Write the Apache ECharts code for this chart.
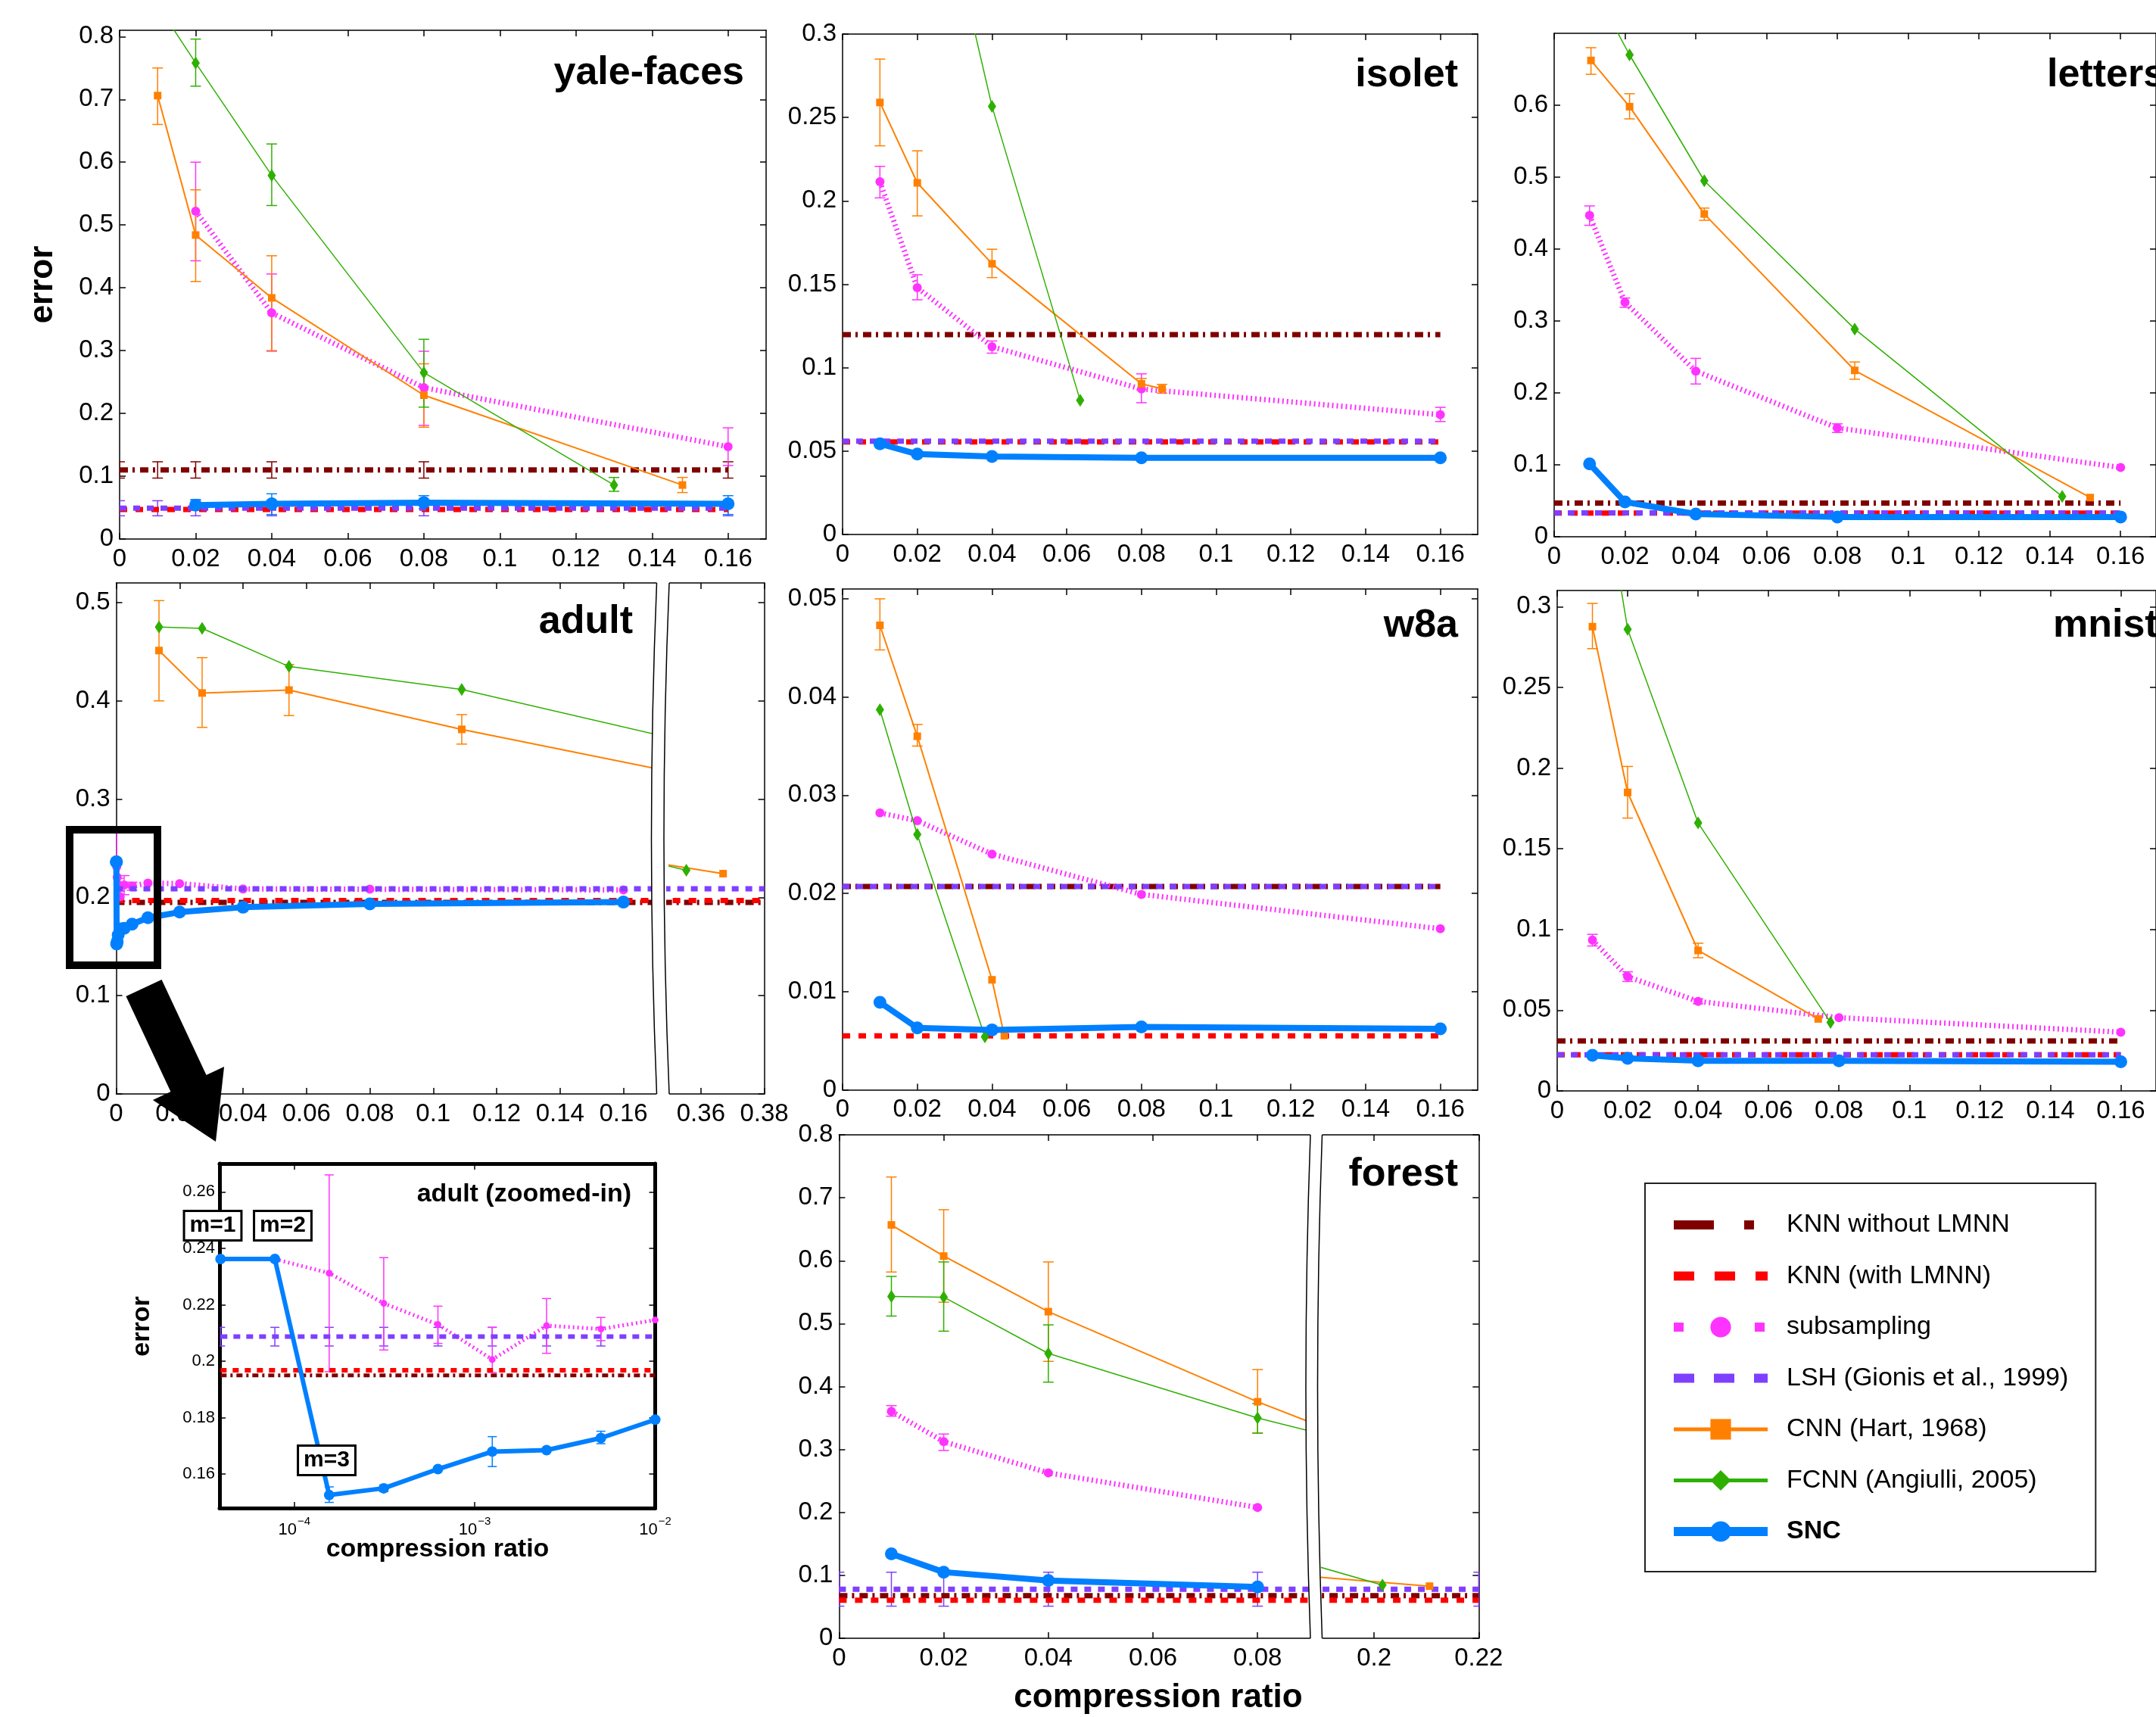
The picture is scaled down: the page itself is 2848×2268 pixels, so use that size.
<!DOCTYPE html>
<html>
<head>
<meta charset="utf-8">
<title>error vs compression ratio</title>
<script src="https://cdn.jsdelivr.net/npm/echarts@6/dist/echarts.min.js"></script>
<style>
  html, body { margin: 0; padding: 0; background: #fff; }
  #chart { width: 2848px; height: 2268px; }
</style>
</head>
<body>
<div id="chart"></div>
<script>
// ---------- values ----------
const mainXTicks = [0, 0.02, 0.04, 0.06, 0.08, 0.1, 0.12, 0.14, 0.16];

// yale-faces
const yaleBaseX = [0, 0.01, 0.02, 0.04, 0.08, 0.16];
const yaleKnn = 0.110, yaleKnnLmnn = 0.047, yaleLsh = 0.049;
const yaleKnnSpread = 0.013, yaleLshSpread = 0.012;
const yaleSub = [[0.02, 0.522], [0.04, 0.360], [0.08, 0.241], [0.16, 0.147]];
const yaleSubErr = [[0.02, 0.443, 0.600], [0.04, 0.299, 0.422], [0.08, 0.181, 0.299], [0.16, 0.117, 0.177]];
const yaleCnn = [[0.01, 0.706], [0.02, 0.484], [0.04, 0.384], [0.08, 0.229], [0.148, 0.086]];
const yaleCnnErr = [[0.01, 0.660, 0.750], [0.02, 0.410, 0.556], [0.04, 0.300, 0.451], [0.08, 0.178, 0.279], [0.148, 0.074, 0.098]];
const yaleFcnn = [[0.01, 0.850], [0.02, 0.758], [0.04, 0.579], [0.08, 0.265], [0.130, 0.086]];
const yaleFcnnErr = [[0.02, 0.721, 0.796], [0.04, 0.531, 0.629], [0.08, 0.210, 0.318], [0.130, 0.076, 0.098]];
const yaleSnc = [[0.02, 0.054], [0.04, 0.056], [0.08, 0.058], [0.16, 0.056]];
const yaleSncErr = [[0.02, 0.046, 0.063], [0.04, 0.039, 0.072], [0.08, 0.048, 0.069], [0.16, 0.039, 0.069]];
const yaleYTicks = [0, 0.1, 0.2, 0.3, 0.4, 0.5, 0.6, 0.7, 0.8];

// isolet
const isoBaseX = [0, 0.01, 0.02, 0.04, 0.08, 0.16];
const isoKnn = 0.1198, isoKnnLmnn = 0.0555, isoLsh = 0.0559;
const isoSub = [[0.01, 0.2115], [0.02, 0.148], [0.04, 0.1126], [0.08, 0.0872], [0.16, 0.0718]];
const isoSubErr = [[0.01, 0.2018, 0.2207], [0.02, 0.1407, 0.1557], [0.04, 0.1087, 0.116], [0.08, 0.079, 0.0963], [0.16, 0.0677, 0.0762]];
const isoCnn = [[0.01, 0.259], [0.02, 0.2108], [0.04, 0.1623], [0.08, 0.0903], [0.0855, 0.0874]];
const isoCnnErr = [[0.01, 0.233, 0.285], [0.02, 0.191, 0.230], [0.04, 0.154, 0.171], [0.08, 0.0868, 0.0935], [0.0855, 0.0847, 0.0900]];
const isoFcnn = [[0.02, 0.45], [0.04, 0.2566], [0.0636, 0.0804]];
const isoSnc = [[0.01, 0.0544], [0.02, 0.0482], [0.04, 0.0467], [0.08, 0.046], [0.16, 0.046]];
const isoYTicks = [0, 0.05, 0.1, 0.15, 0.2, 0.25, 0.3];

// letters
const letBaseX = [0, 0.01, 0.02, 0.04, 0.08, 0.16];
const letKnn = 0.0469, letKnnLmnn = 0.033, letLsh = 0.0331;
const letSub = [[0.01, 0.4468], [0.02, 0.326], [0.04, 0.2303], [0.08, 0.1513], [0.16, 0.0963]];
const letSubErr = [[0.01, 0.433, 0.46], [0.02, 0.319, 0.332], [0.04, 0.2124, 0.248], [0.08, 0.145, 0.157]];
const letCnn = [[0.0104, 0.6623], [0.0213, 0.598], [0.0424, 0.4488], [0.0849, 0.2313], [0.1514, 0.0545]];
const letCnnErr = [[0.0104, 0.643, 0.68], [0.0213, 0.581, 0.616], [0.0424, 0.44, 0.457], [0.0849, 0.219, 0.243]];
const letFcnn = [[0.0104, 0.77], [0.0213, 0.67], [0.0424, 0.495], [0.0849, 0.2888], [0.1435, 0.056]];
const letSnc = [[0.01, 0.1014], [0.02, 0.0484], [0.04, 0.0316], [0.08, 0.0275], [0.16, 0.0275]];
const letYTicks = [0, 0.1, 0.2, 0.3, 0.4, 0.5, 0.6];

// adult (zoomed-in region, log x)
const adultZoomX = [3.9e-5, 7.8e-5, 1.56e-4, 3.13e-4, 6.25e-4, 1.25e-3, 2.5e-3, 5e-3, 1e-2];
const adultZoomSnc = [[3.9e-5, 0.2362], [7.8e-5, 0.2362], [1.56e-4, 0.1526], [3.13e-4, 0.155], [6.25e-4, 0.1618], [1.25e-3, 0.168], [2.5e-3, 0.1685], [5e-3, 0.1728], [1e-2, 0.1793]];
const adultZoomSncErr = [[1.56e-4, 0.150, 0.1555], [3.13e-4, 0.1538, 0.1562], [1.25e-3, 0.1627, 0.1733], [5e-3, 0.1708, 0.1752]];
const adultZoomSub = [[7.8e-5, 0.2362], [1.56e-4, 0.2312], [3.13e-4, 0.2205], [6.25e-4, 0.213], [1.25e-3, 0.2006], [2.5e-3, 0.2126], [5e-3, 0.2114], [1e-2, 0.2146]];
const adultZoomSubErr = [[1.56e-4, 0.1963, 0.266], [3.13e-4, 0.204, 0.2367], [6.25e-4, 0.2063, 0.2195], [1.25e-3, 0.196, 0.212], [2.5e-3, 0.2028, 0.2222], [5e-3, 0.2073, 0.2155]];
const adultZoomXTicks = [1e-4, 1e-3, 1e-2];
const adultZoomYTicks = [0.16, 0.18, 0.2, 0.22, 0.24, 0.26];
// adult (full)
const adultBaseX = [0, 0.01, 0.02, 0.04, 0.08, 0.16, 0.38];
const adultKnn = 0.195, adultKnnLmnn = 0.1968, adultLsh = 0.2087, adultLshSpread = 0.0033;
const adultSub = [[0.02, 0.214], [0.04, 0.2086], [0.08, 0.2083], [0.16, 0.2076]];
const adultSnc = [[0.02, 0.185], [0.04, 0.19], [0.08, 0.1934], [0.16, 0.1952]];
const adultCnn = [[0.0135, 0.4512], [0.0271, 0.408], [0.0545, 0.411], [0.109, 0.371], [0.218, 0.30], [0.367, 0.2242]];
const adultCnnErr = [[0.0135, 0.40, 0.502], [0.0271, 0.373, 0.444], [0.0545, 0.385, 0.437], [0.109, 0.356, 0.386]];
const adultFcnn = [[0.0135, 0.4752], [0.0271, 0.4738], [0.0545, 0.435], [0.109, 0.4116], [0.218, 0.33], [0.3554, 0.2277]];
const adultYTicks = [0, 0.1, 0.2, 0.3, 0.4, 0.5];
const adultXTicksRight = [0.36, 0.38];

// w8a
const w8aBaseX = [0, 0.01, 0.02, 0.04, 0.08, 0.16];
const w8aKnn = 0.0207, w8aKnnLmnn = 0.0055, w8aLsh = 0.0207;
const w8aSub = [[0.01, 0.0282], [0.02, 0.0274], [0.04, 0.024], [0.08, 0.0199], [0.16, 0.0164]];
const w8aCnn = [[0.01, 0.0473], [0.02, 0.036], [0.04, 0.0112], [0.0433, 0.0055]];
const w8aCnnErr = [[0.01, 0.0448, 0.05], [0.02, 0.035, 0.0372]];
const w8aFcnn = [[0.01, 0.0387], [0.02, 0.026], [0.0381, 0.0054]];
const w8aSnc = [[0.01, 0.0089], [0.02, 0.0063], [0.04, 0.0061], [0.08, 0.0064], [0.16, 0.0062]];
const w8aYTicks = [0, 0.01, 0.02, 0.03, 0.04, 0.05];

// mnist
const mnBaseX = [0, 0.01, 0.02, 0.04, 0.08, 0.16];
const mnKnn = 0.031, mnKnnLmnn = 0.0224, mnLsh = 0.0224;
const mnSub = [[0.01, 0.0934], [0.02, 0.0708], [0.04, 0.0555], [0.08, 0.0454], [0.16, 0.0364]];
const mnSubErr = [[0.01, 0.0898, 0.097], [0.02, 0.0678, 0.0738], [0.04, 0.054, 0.057]];
const mnCnn = [[0.01, 0.2876], [0.02, 0.1849], [0.04, 0.087], [0.0741, 0.0446]];
const mnCnnErr = [[0.01, 0.274, 0.302], [0.02, 0.169, 0.201], [0.04, 0.0825, 0.0915]];
const mnFcnn = [[0.01, 0.42], [0.02, 0.286], [0.04, 0.166], [0.0776, 0.0424]];
const mnSnc = [[0.01, 0.022], [0.02, 0.0202], [0.04, 0.0187], [0.08, 0.0187], [0.16, 0.0181]];
const mnYTicks = [0, 0.05, 0.1, 0.15, 0.2, 0.25, 0.3];

// forest
const foBaseX = [0, 0.01, 0.02, 0.04, 0.08, 0.16, 0.22];
const foKnn = 0.0677, foKnnLmnn = 0.0604, foLsh = 0.078, foLshSpread = 0.027;
const foSub = [[0.01, 0.3607], [0.02, 0.3124], [0.04, 0.2628], [0.08, 0.2079]];
const foSubErr = [[0.01, 0.3529, 0.3697], [0.02, 0.2985, 0.3245]];
const foCnn = [[0.01, 0.6568], [0.02, 0.6073], [0.04, 0.519], [0.08, 0.3758], [0.16, 0.117], [0.2106, 0.0828]];
const foCnnErr = [[0.01, 0.582, 0.733], [0.02, 0.534, 0.681], [0.04, 0.44, 0.598], [0.08, 0.326, 0.427]];
const foFcnn = [[0.01, 0.5432], [0.02, 0.542], [0.04, 0.4526], [0.08, 0.35], [0.16, 0.184], [0.2016, 0.0846]];
const foFcnnErr = [[0.01, 0.512, 0.575], [0.02, 0.488, 0.598], [0.04, 0.407, 0.498], [0.08, 0.326, 0.373]];
const foSnc = [[0.01, 0.1341], [0.02, 0.1051], [0.04, 0.0918], [0.08, 0.0816]];
const foYTicks = [0, 0.1, 0.2, 0.3, 0.4, 0.5, 0.6, 0.7, 0.8];
const foXTicksLeft = [0, 0.02, 0.04, 0.06, 0.08];
const foXTicksRight = [0.2, 0.22];

// ---------- styles ----------
const FONT = "'Liberation Sans', Arial, Helvetica, sans-serif";
const NAMES = {
  knn: 'KNN without LMNN', lmnn: 'KNN (with LMNN)', sub: 'subsampling',
  lsh: 'LSH (Gionis et al., 1999)', cnn: 'CNN (Hart, 1968)',
  fcnn: 'FCNN (Angiulli, 2005)', snc: 'SNC'
};
const MAIN = {
  knn:  { color: '#800000', width: 7, type: [11, 6, 3, 7] },
  lmnn: { color: '#ff0000', width: 7, type: [10, 11] },
  sub:  { color: '#ff33ff', width: 7, type: [2, 4], symbol: 'circle', size: 12 },
  lsh:  { color: '#7f3fff', width: 7, type: [9, 9] },
  cnn:  { color: '#ff8000', width: 2, type: 'solid', symbol: 'rect', size: 10 },
  fcnn: { color: '#2eb000', width: 1.5, type: 'solid', symbol: 'diamond', size: [11, 17] },
  snc:  { color: '#0080ff', width: 8, type: 'solid', symbol: 'circle', size: 17 },
  cap: 7
};
const INSET = {
  knn:  { color: '#800000', width: 5, type: [8, 5, 3, 5] },
  lmnn: { color: '#ff0000', width: 6, type: [8, 8] },
  sub:  { color: '#ff33ff', width: 5, type: [2, 4], symbol: 'circle', size: 9 },
  lsh:  { color: '#7f3fff', width: 6, type: [9, 8] },
  snc:  { color: '#0080ff', width: 6, type: 'solid', symbol: 'circle', size: 14 },
  cap: 6
};

const grid = [], xAxis = [], yAxis = [], lines = [], bars = [], graphics = [];

function num(v) { return String(Number(Number(v).toPrecision(6))); }
function logFmt(v) {
  const e = Math.round(Math.log10(v));
  return '{b|10}{s|' + (e < 0 ? '\u2212' + (-e) : e) + '}';
}
function spread(xs, v, s) { return xs.map(x => [x, v - s, v + s]); }

function addGrid(r, xo, yo, sides) {
  const gi = grid.length;
  grid.push({ left: r.left, top: r.top, width: r.width, height: r.height });
  const lw = r.frame || 1.5, fs = r.fs || 33, tl = r.tick || 8;
  const axisLine = () => ({ show: true, onZero: false, lineStyle: { color: '#000', width: lw } });
  const axisTick = vals => ({ show: true, inside: true, length: tl, customValues: vals, lineStyle: { color: '#000', width: 1.5 } });
  const label = (vals, fmt, margin, rich) => ({
    show: true, customValues: vals, formatter: fmt || num, color: '#000',
    fontSize: fs, fontFamily: FONT, margin: margin, rich: rich
  });
  const xc = { type: xo.type || 'value', gridIndex: gi, min: xo.min, max: xo.max, splitLine: { show: false } };
  const xi = xAxis.length;
  xAxis.push(Object.assign({ position: 'bottom', axisLine: axisLine(), axisTick: axisTick(xo.ticks),
    axisLabel: label(xo.ticks, xo.fmt, r.xMargin || 10, xo.rich) }, xc));
  xAxis.push(Object.assign({ position: 'top', axisLine: axisLine(), axisTick: axisTick(xo.ticks),
    axisLabel: { show: false } }, xc));
  const yc = { type: 'value', gridIndex: gi, min: yo.min, max: yo.max, splitLine: { show: false } };
  const yi = yAxis.length;
  yAxis.push(Object.assign({ position: 'left', show: sides.left, axisLine: axisLine(), axisTick: axisTick(yo.ticks),
    axisLabel: label(yo.ticks, null, r.yMargin || 8) }, yc));
  if (sides.right) {
    yAxis.push(Object.assign({ position: 'right', axisLine: axisLine(), axisTick: axisTick(yo.ticks),
      axisLabel: { show: false } }, yc));
  }
  return { x: xi, y: yi };
}

function line(name, data, ax, s, z) {
  return {
    type: 'line', name: name, data: data, xAxisIndex: ax.x, yAxisIndex: ax.y,
    clip: true, silent: true, z: z, animation: false,
    symbol: s.symbol || 'none', symbolSize: s.size, showSymbol: !!s.symbol,
    lineStyle: { color: s.color, width: s.width, type: s.type, cap: 'butt' },
    itemStyle: { color: s.color }
  };
}

function errBar(name, data, ax, color, cap) {
  return {
    type: 'custom', name: name, data: data, xAxisIndex: ax.x, yAxisIndex: ax.y,
    coordinateSystem: 'cartesian2d', clip: true, silent: true, z: 2,
    encode: { x: 0, y: [1, 2] },
    renderItem: function (params, api) {
      const x = api.value(0);
      const hi = api.coord([x, api.value(2)]);
      const lo = api.coord([x, api.value(1)]);
      const style = { stroke: color, lineWidth: 1.5, fill: null };
      const seg = (x1, y1, x2, y2) => ({ type: 'line', shape: { x1: x1, y1: y1, x2: x2, y2: y2 }, style: style });
      return { type: 'group', children: [
        seg(hi[0], hi[1], lo[0], lo[1]),
        seg(hi[0] - cap, hi[1], hi[0] + cap, hi[1]),
        seg(lo[0] - cap, lo[1], lo[0] + cap, lo[1])
      ] };
    }
  };
}

function addPanel(axes, p, st) {
  const base = v => p.baseX.map(x => [x, v]);
  axes.forEach(ax => {
    lines.push(line(NAMES.knn, base(p.knn), ax, st.knn, 3));
    lines.push(line(NAMES.lmnn, base(p.lmnn), ax, st.lmnn, 3));
    if (p.sub) lines.push(line(NAMES.sub, p.sub, ax, st.sub, 4));
    lines.push(line(NAMES.lsh, base(p.lsh), ax, st.lsh, 5));
    if (p.cnn) lines.push(line(NAMES.cnn, p.cnn, ax, st.cnn, 6));
    if (p.fcnn) lines.push(line(NAMES.fcnn, p.fcnn, ax, st.fcnn, 6));
    lines.push(line(NAMES.snc, p.snc, ax, st.snc, 7));
    (p.err || []).forEach(e => bars.push(errBar(NAMES[e[0]], e[1], ax, st[e[0]].color, st.cap)));
  });
}

function title(text, x, y, align, size) {
  graphics.push({ type: 'text', z: 100, style: {
    text: text, x: x, y: y, font: 'bold ' + size + 'px ' + FONT, fill: '#000',
    align: align, verticalAlign: 'middle' } });
}

// white gap with two gently curved edges where an x axis is broken
function breakPatch(xa, xb, top, bottom, bulge) {
  const mid = (top + bottom) / 2, ca = xa - 2 * bulge, cb = xb - 2 * bulge;
  const curve = (x, c) => {
    const pts = [];
    for (let i = 0; i <= 24; i++) {
      const t = i / 24, y = top - 1 + (bottom - top + 2) * t;
      pts.push([(1 - t) * (1 - t) * x + 2 * (1 - t) * t * c + t * t * x, y]);
    }
    return pts;
  };
  graphics.push({ type: 'polygon', z: 100, shape: { points: curve(xa, ca).concat(curve(xb, cb).reverse()) },
    style: { fill: '#fff', stroke: null } });
  [[xa, ca], [xb, cb]].forEach(c => graphics.push({ type: 'bezierCurve', z: 101,
    shape: { x1: c[0], y1: top, x2: c[0], y2: bottom, cpx1: c[1], cpy1: mid },
    style: { fill: null, stroke: '#000', lineWidth: 1.5 } }));
}

// ---------- panels ----------
const full = { left: true, right: true };
const X17 = { min: 0, max: 0.17, ticks: mainXTicks };

// yale-faces
const yaleAx = addGrid({ left: 158, top: 40, width: 854, height: 672 }, X17, { min: 0, max: 0.81, ticks: yaleYTicks }, full);
addPanel([yaleAx], { baseX: yaleBaseX, knn: yaleKnn, lmnn: yaleKnnLmnn, lsh: yaleLsh,
  sub: yaleSub, cnn: yaleCnn, fcnn: yaleFcnn, snc: yaleSnc,
  err: [['knn', spread(yaleBaseX, yaleKnn, yaleKnnSpread)], ['lsh', spread(yaleBaseX, yaleLsh, yaleLshSpread)],
        ['sub', yaleSubErr], ['cnn', yaleCnnErr], ['fcnn', yaleFcnnErr], ['snc', yaleSncErr]] }, MAIN);

// isolet
const isoAx = addGrid({ left: 1113, top: 45, width: 839, height: 661 }, X17, { min: 0, max: 0.3, ticks: isoYTicks }, full);
addPanel([isoAx], { baseX: isoBaseX, knn: isoKnn, lmnn: isoKnnLmnn, lsh: isoLsh,
  sub: isoSub, cnn: isoCnn, fcnn: isoFcnn, snc: isoSnc,
  err: [['sub', isoSubErr], ['cnn', isoCnnErr]] }, MAIN);

// letters
const letAx = addGrid({ left: 2053, top: 44, width: 844, height: 665 }, X17, { min: 0, max: 0.7, ticks: letYTicks }, full);
addPanel([letAx], { baseX: letBaseX, knn: letKnn, lmnn: letKnnLmnn, lsh: letLsh,
  sub: letSub, cnn: letCnn, fcnn: letFcnn, snc: letSnc,
  err: [['sub', letSubErr], ['cnn', letCnnErr]] }, MAIN);

// adult (broken x axis: two sub-plots)
const adultY = { min: 0, max: 0.52, ticks: adultYTicks };
const adultL = addGrid({ left: 153.5, top: 770, width: 714, height: 675 }, { min: 0, max: 0.1705, ticks: mainXTicks }, adultY, { left: true, right: false });
const adultR = addGrid({ left: 884, top: 770, width: 125.6, height: 675 }, { min: 0.35, max: 0.38, ticks: adultXTicksRight }, adultY, { left: false, right: true });
addPanel([adultL, adultR], { baseX: adultBaseX, knn: adultKnn, lmnn: adultKnnLmnn, lsh: adultLsh,
  sub: adultZoomSub.concat(adultSub), cnn: adultCnn, fcnn: adultFcnn, snc: adultZoomSnc.concat(adultSnc),
  err: [['cnn', adultCnnErr], ['sub', adultZoomSubErr]] }, MAIN);

// w8a
const w8aAx = addGrid({ left: 1113, top: 778, width: 839, height: 661.5 }, X17, { min: 0, max: 0.051, ticks: w8aYTicks }, full);
addPanel([w8aAx], { baseX: w8aBaseX, knn: w8aKnn, lmnn: w8aKnnLmnn, lsh: w8aLsh,
  sub: w8aSub, cnn: w8aCnn, fcnn: w8aFcnn, snc: w8aSnc, err: [['cnn', w8aCnnErr]] }, MAIN);

// mnist
const mnAx = addGrid({ left: 2057, top: 780, width: 839, height: 661 }, X17, { min: 0, max: 0.31, ticks: mnYTicks }, full);
addPanel([mnAx], { baseX: mnBaseX, knn: mnKnn, lmnn: mnKnnLmnn, lsh: mnLsh,
  sub: mnSub, cnn: mnCnn, fcnn: mnFcnn, snc: mnSnc, err: [['sub', mnSubErr], ['cnn', mnCnnErr]] }, MAIN);

// forest (broken x axis)
const foY = { min: 0, max: 0.8, ticks: foYTicks };
const foL = addGrid({ left: 1108.4, top: 1499, width: 624, height: 665 }, { min: 0, max: 0.0903, ticks: foXTicksLeft }, foY, { left: true, right: false });
const foR = addGrid({ left: 1746, top: 1499, width: 207.3, height: 665 }, { min: 0.19, max: 0.22, ticks: foXTicksRight }, foY, { left: false, right: true });
addPanel([foL, foR], { baseX: foBaseX, knn: foKnn, lmnn: foKnnLmnn, lsh: foLsh,
  sub: foSub, cnn: foCnn, fcnn: foFcnn, snc: foSnc,
  err: [['lsh', spread(foBaseX, foLsh, foLshSpread)], ['sub', foSubErr], ['cnn', foCnnErr], ['fcnn', foFcnnErr]] }, MAIN);

// adult zoomed-in inset (log x)
const insetAx = addGrid({ left: 290, top: 1537, width: 575.5, height: 455, frame: 5, fs: 22, xMargin: 10, yMargin: 6 },
  { type: 'log', min: 3.85e-5, max: 0.01, ticks: adultZoomXTicks, fmt: logFmt,
    rich: { b: { fontSize: 22, fontFamily: FONT, color: '#000' },
            s: { fontSize: 15, fontFamily: FONT, color: '#000', padding: [0, 0, 22, 1] } } },
  { min: 0.148, max: 0.27, ticks: adultZoomYTicks }, full);
addPanel([insetAx], { baseX: adultZoomX, knn: adultKnn, lmnn: adultKnnLmnn, lsh: adultLsh,
  sub: adultZoomSub, snc: adultZoomSnc,
  err: [['lsh', spread(adultZoomX.slice(0, 8), adultLsh, adultLshSpread)], ['sub', adultZoomSubErr], ['snc', adultZoomSncErr]] }, INSET);

// ---------- annotations ----------
breakPatch(867.5, 884, 770, 1445, 7);
breakPatch(1731, 1746.5, 1499, 2164, 6);

title('yale-faces', 983, 97, 'right', 52);
title('isolet', 1926, 100, 'right', 52);
title('letters', 2704, 100, 'left', 52);
title('adult', 836, 822, 'right', 52);
title('w8a', 1926, 827, 'right', 52);
title('mnist', 2712, 827, 'left', 52);
title('forest', 1926, 1552, 'right', 52);
title('adult (zoomed-in)', 834, 1578, 'right', 34);
title('compression ratio', 1530, 2243, 'center', 44);
title('compression ratio', 578, 2047, 'center', 34);
graphics.push({ type: 'text', z: 100, x: 57, y: 376, rotation: Math.PI / 2,
  style: { text: 'error', x: 0, y: 0, font: 'bold 44px ' + FONT, fill: '#000', align: 'center', verticalAlign: 'middle' } });
graphics.push({ type: 'text', z: 100, x: 188, y: 1752, rotation: Math.PI / 2,
  style: { text: 'error', x: 0, y: 0, font: 'bold 34px ' + FONT, fill: '#000', align: 'center', verticalAlign: 'middle' } });

[['m=1', 281, 1619], ['m=2', 373.5, 1619], ['m=3', 431.5, 1929]].forEach(m => graphics.push({
  type: 'text', z: 110, style: { text: m[0], x: m[1], y: m[2], font: 'bold 30px ' + FONT, fill: '#000',
    align: 'center', verticalAlign: 'middle', backgroundColor: '#fff', borderColor: '#000', borderWidth: 3, padding: [3, 6] } }));

// zoom box on the adult panel and the arrow to the inset
graphics.push({ type: 'rect', z: 105, shape: { x: 92, y: 1096, width: 116, height: 179 },
  style: { fill: null, stroke: '#000', lineWidth: 10 } });
(function () {
  const S = [190, 1305], T = [285, 1508];
  const dx = T[0] - S[0], dy = T[1] - S[1], L = Math.hypot(dx, dy);
  const u = [dx / L, dy / L], n = [u[1], -u[0]];
  const hw = 26, hl = 85, hh = 52;
  const B = [T[0] - u[0] * hl, T[1] - u[1] * hl];
  const P = (p, k) => [p[0] + n[0] * k, p[1] + n[1] * k];
  graphics.push({ type: 'polygon', z: 106, shape: { points: [P(S, hw), P(B, hw), P(B, hh), T, P(B, -hh), P(B, -hw), P(S, -hw)] },
    style: { fill: '#000' } });
})();

// ---------- chart ----------
const chart = echarts.init(document.getElementById('chart'));
chart.setOption({
  backgroundColor: '#fff',
  animation: false,
  grid: grid,
  xAxis: xAxis,
  yAxis: yAxis,
  legend: {
    orient: 'vertical', left: 2173, top: 1563,
    padding: [38, 36, 36, 32],
    itemWidth: 124, itemHeight: 34, itemGap: 33.5,
    borderColor: '#222', borderWidth: 2, backgroundColor: '#fff',
    textStyle: { fontSize: 34, fontFamily: FONT, color: '#000', padding: [0, 0, 0, 20], lineHeight: 34 },
    data: [
      { name: NAMES.knn, itemStyle: { opacity: 0 }, lineStyle: { width: 12, type: [53, 40, 13, 40] } },
      { name: NAMES.lmnn, itemStyle: { opacity: 0 }, lineStyle: { width: 12, type: [27, 27] } },
      { name: NAMES.sub, lineStyle: { width: 12, type: [13, 94] } },
      { name: NAMES.lsh, itemStyle: { opacity: 0 }, lineStyle: { width: 12, type: [27, 26] } },
      { name: NAMES.cnn, lineStyle: { width: 5 } },
      { name: NAMES.fcnn, lineStyle: { width: 5 } },
      { name: NAMES.snc, lineStyle: { width: 12 }, textStyle: { fontWeight: 'bold' } }
    ]
  },
  series: lines.concat(bars),
  graphic: { elements: graphics }
});
window.addEventListener('resize', () => chart.resize());
</script>
</body>
</html>
